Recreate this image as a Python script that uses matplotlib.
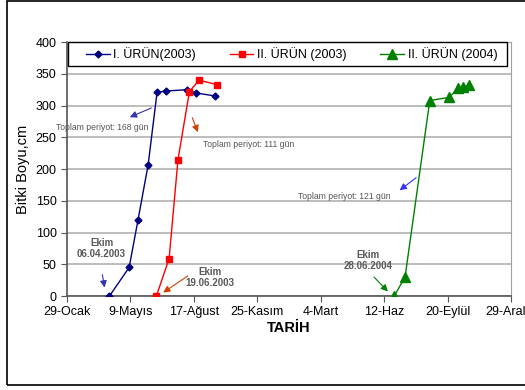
import matplotlib
matplotlib.use("Agg")
import matplotlib.pyplot as plt
import pandas as pd
from matplotlib.patches import Rectangle

plt.rcParams["font.family"] = ["Liberation Sans", "DejaVu Sans"]

# region Data
start = pd.Timestamp("2003-01-29")

urun1_dates = ["2003-04-06", "2003-05-07", "2003-05-21", "2003-06-06", "2003-06-20",
               "2003-07-04", "2003-08-06", "2003-08-20", "2003-09-20"]
urun1_boy = [0, 45, 120, 207, 321, 323, 325, 320, 315]

urun2_dates = ["2003-06-19", "2003-07-09", "2003-07-23", "2003-08-10", "2003-08-25",
               "2003-09-23"]
urun2_boy = [0, 59, 215, 322, 340, 333]

urun3_dates = ["2004-06-28", "2004-07-15", "2004-08-23", "2004-09-23", "2004-10-06",
               "2004-10-14", "2004-10-24"]
urun3_boy = [0, 30, 308, 313, 327, 330, 332]

tick_labels = ["29-Ocak", "9-Mayıs", "17-Ağust", "25-Kasım", "4-Mart", "12-Haz",
               "20-Eylül", "29-Aralık"]
series_names = ["I. ÜRÜN(2003)", "II. ÜRÜN (2003)", "II. ÜRÜN (2004)"]
# endregion


def gun(dates):
    return [(pd.Timestamp(d) - start).days for d in dates]


fig = plt.figure(figsize=(5.25, 3.9), dpi=100)
ax = fig.add_axes([0.1276, 0.241, 0.8457, 0.651])

ax.plot(gun(urun1_dates), urun1_boy, color="#000080", marker="D", markersize=3.5,
        lw=1, label=series_names[0], zorder=3)
ax.plot(gun(urun2_dates), urun2_boy, color="#ff0000", marker="s", markersize=5,
        lw=1, label=series_names[1], zorder=3)
ax.plot(gun(urun3_dates), urun3_boy, color="#008000", marker="^", markersize=7,
        lw=1, label=series_names[2], zorder=3)

ax.set_xlim(0, 700)
ax.set_ylim(0, 400)
ax.set_xticks(range(0, 701, 100))
ax.set_xticklabels(tick_labels, fontsize=9)
ax.set_yticks(range(0, 401, 50))
ax.tick_params(axis="y", labelsize=9, length=4, color="#555555")
ax.tick_params(axis="x", length=4, color="#555555")
ax.grid(axis="y", color="#b8b8b8", lw=1.3)
ax.set_axisbelow(True)
for side in ["left", "bottom"]:
    ax.spines[side].set_color("#555555")
    ax.spines[side].set_linewidth(1.2)
for side in ["right", "top"]:
    ax.spines[side].set_color("#a0a0a0")

ax.set_ylabel("Bitki Boyu,cm", fontsize=10.5, labelpad=4)
ax.set_xlabel("TARİH", fontsize=10.5, fontweight="bold", labelpad=2)

# legend box drawn separately so the entries can sit centred with wide gaps
ax.add_patch(Rectangle((0.002, 0.906), 0.989, 0.094, transform=ax.transAxes,
                       facecolor="white", edgecolor="black", lw=1, zorder=4,
                       clip_on=False))
leg = ax.legend(loc="center", bbox_to_anchor=(0.506, 0.953), ncol=3, fontsize=9,
                frameon=False, handlelength=1.9, borderaxespad=0,
                handletextpad=0.3, columnspacing=2.7)
leg.set_zorder(5)

# region Annotations
small = dict(fontsize=6.2, color="#555555", ha="center", va="center")
bold = dict(fontsize=7, color="#595959", ha="center", va="center",
            fontweight="bold", linespacing=1.1)

ax.text(55, 266, "Toplam periyot: 168 gün", clip_on=False, **small)
ax.annotate("", xy=(95, 280), xytext=(137, 298),
            arrowprops=dict(arrowstyle="-|>", color="#3333b3", lw=0.8))
ax.text(286, 239, "Toplam periyot: 111 gün", **small)
ax.annotate("", xy=(208, 254), xytext=(196, 285),
            arrowprops=dict(arrowstyle="-|>", color="#cc4400", lw=0.8))
ax.text(438, 156, "Toplam periyot: 121 gün", **small)
ax.annotate("", xy=(521, 164), xytext=(554, 189),
            arrowprops=dict(arrowstyle="-|>", color="#3333ff", lw=0.8))

ax.text(54.5, 75, "Ekim\n06.04.2003", **bold)
ax.annotate("", xy=(60, 9), xytext=(55, 38),
            arrowprops=dict(arrowstyle="-|>", color="#3333b3", lw=0.8))
ax.text(225.5, 29.5, "Ekim\n19.06.2003", **bold)
ax.annotate("", xy=(148, 3), xytext=(194, 34),
            arrowprops=dict(arrowstyle="-|>", color="#cc4400", lw=0.8))
ax.text(475, 56, "Ekim\n28.06.2004", **bold)
ax.annotate("", xy=(509, 4), xytext=(481, 33),
            arrowprops=dict(arrowstyle="-|>", color="#008000", lw=0.8))
# endregion

fig.patches.append(Rectangle((0.0133, 0.0128), 1.1, 0.984, transform=fig.transFigure,
                             fill=False, edgecolor="black", lw=1.2))

fig.savefig("out.png", dpi=100)
